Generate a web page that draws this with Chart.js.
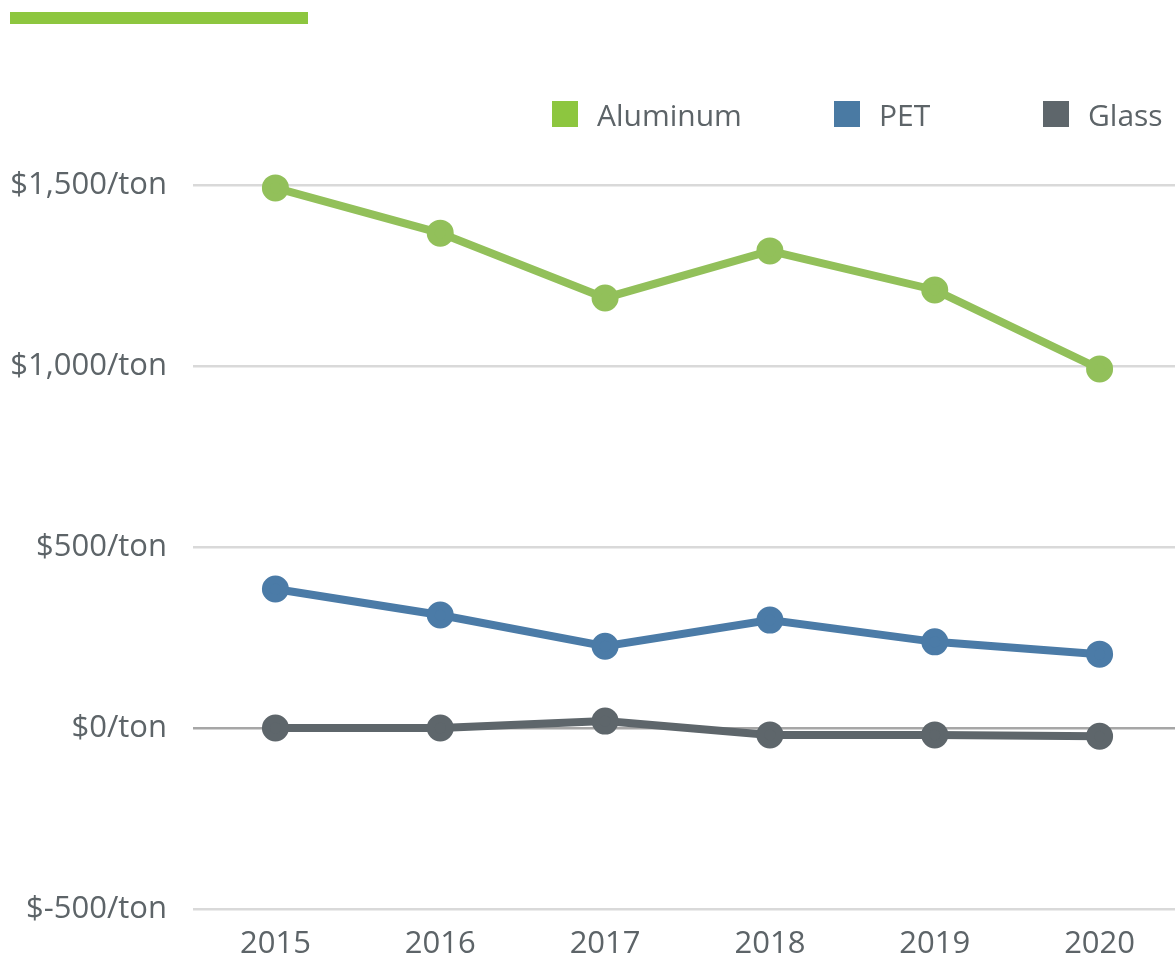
<!DOCTYPE html>
<html>
<head>
<meta charset="utf-8">
<script src="https://cdn.jsdelivr.net/npm/chart.js@4"></script>
<style>
  html, body { margin: 0; padding: 0; background: #fff; overflow: hidden; }
  #wrap { position: relative; width: 1175px; height: 959px; overflow: hidden; }
  #topBar { position: absolute; left: 10px; top: 12px; width: 298px; height: 12px; background: #8dc63f; }
  .legendItem { position: absolute; top: 100px; display: flex; align-items: center; height: 28px;
    font-family: "Open Sans", sans-serif; font-size: 30px; color: #5d6468; white-space: nowrap; }
  .legendItem .box { width: 26px; height: 26px; margin-right: 19px; }
  #chartBox { position: absolute; left: 0; top: 0; }
</style>
</head>
<body>
<div id="wrap">
  <div id="topBar"></div>
  <div id="chartBox"><canvas id="priceChart" width="1182" height="961"></canvas></div>
  <div id="legend"></div>
</div>
<script>
// Data
const years = ['2015', '2016', '2017', '2018', '2019', '2020'];
const aluminum = [1492, 1367, 1188, 1318, 1210, 992];
const pet = [384, 312, 226, 298, 238, 204];
const glass = [0, 0, 19, -19, -19, -23];
const yTicks = [-500, 0, 500, 1000, 1500];

const seriesNames = ['Aluminum', 'PET', 'Glass'];
const lineColors = ['#92c05a', '#4b7ba7', '#5e666b'];
const boxColors = ['#8dc63f', '#4a7aa3', '#5e666b'];
const legendLeft = [552, 834, 1043];

const textColor = '#5d6468';
const fontFamily = '"Open Sans", sans-serif';

// HTML legend
const legendEl = document.getElementById('legend');
seriesNames.forEach((name, i) => {
    const item = document.createElement('div');
    item.className = 'legendItem';
    item.style.left = legendLeft[i] + 'px';
    item.innerHTML = '<span class="box" style="background:' + boxColors[i] + '"></span><span>' + name + '</span>';
    legendEl.appendChild(item);
});

function formatTon(value) {
    if (value < 0) return '$-' + Math.abs(value).toLocaleString('en-US') + '/ton';
    return '$' + value.toLocaleString('en-US') + '/ton';
}

function makeDataset(label, data, color) {
    return {
        label: label,
        data: data,
        borderColor: color,
        backgroundColor: color,
        pointBackgroundColor: color,
        pointBorderColor: color,
        borderWidth: 8,
        pointRadius: 9.5,
        pointHoverRadius: 9.5,
        tension: 0,
        clip: false
    };
}

const ctx = document.getElementById('priceChart').getContext('2d');

new Chart(ctx, {
    type: 'line',
    data: {
        labels: years,
        datasets: [
            makeDataset(seriesNames[0], aluminum, lineColors[0]),
            makeDataset(seriesNames[1], pet, lineColors[1]),
            makeDataset(seriesNames[2], glass, lineColors[2])
        ]
    },
    options: {
        responsive: false,
        animation: false,
        layout: {
            autoPadding: false,
            padding: { top: 185, left: 10, right: 0, bottom: 0 }
        },
        plugins: {
            legend: { display: false },
            tooltip: { enabled: false }
        },
        scales: {
            x: {
                offset: true,
                grid: { display: false },
                border: { display: false },
                afterFit: function(scale) {
                    scale.height = 52;
                },
                ticks: {
                    color: textColor,
                    padding: 9,
                    font: { family: fontFamily, size: 31 }
                }
            },
            y: {
                min: yTicks[0],
                max: yTicks[yTicks.length - 1],
                afterBuildTicks: function(scale) {
                    scale.ticks = yTicks.map(v => ({ value: v }));
                },
                afterFit: function(scale) {
                    scale.width = 183;
                },
                grid: {
                    drawTicks: false,
                    lineWidth: 2.5,
                    color: function(context) {
                        return context.tick && context.tick.value === 0 ? '#a6a6a6' : '#d9d9d9';
                    }
                },
                border: { display: false },
                ticks: {
                    color: textColor,
                    padding: 26,
                    font: { family: fontFamily, size: 31 },
                    callback: function(value) {
                        return formatTon(value);
                    }
                }
            }
        }
    }
});
</script>
</body>
</html>
